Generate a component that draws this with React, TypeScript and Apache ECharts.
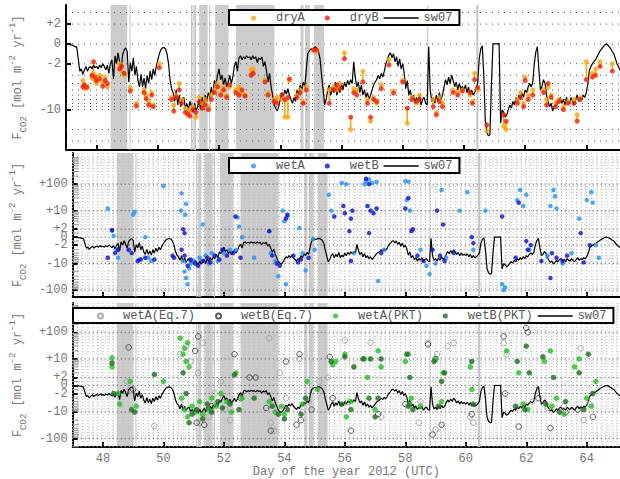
import { useEffect, useRef } from "react";
import * as echarts from "echarts";

const FONT = '"Liberation Mono", "DejaVu Sans Mono", monospace';
const GRAY = "#777777";

// sw07 flux, one value every 0.05 day starting at day 47.00
const sw07Start = 47.0;
const sw07Step = 0.05;
const sw07 = [
  0, 0, -0.05, -0.1, -0.1, -0.2, -0.3, -0.3,
  -1.5, -2.6, -2.4, -2.9, -2.5, -2.2, -2.6, -2.3, -2.2, -2.4, -2.1, -2.3,
  -2.2, -2.4, -2.1, -2.3, -2.0, -2.2, -2.5, -2.1, -2.8, -2.0,
  -1.6, -3.4, -1.2, -2.0, -0.9, -1.8, -2.6, -1.1, -0.6, -0.4,
  -0.8, -3.8, -1.9, -2.6, -1.4, -3.0, -2.2, -3.6, -4.5, -2.9,
  -4.5, -3.3, -4.8, -3.0, -4.0, -2.6, -3.5, -2.4, -3.0, -2.2,
  -1.6, -1.0, -0.6, -0.4, -0.35, -0.5, -1.0, -2.0, -3.5, -4.8,
  -5.5, -7.5, -5.0, -8.5, -6.0, -9.0, -7.0, -6.5, -9.5, -8.0,
  -10.0, -7.5, -9.0, -11.0, -8.0, -10.5, -9.0, -7.0, -10.0, -6.5,
  -8.5, -6.0, -7.5, -5.5, -6.5, -4.5, -6.0, -3.6, -4.2, -3.0,
  -2.4, -3.5, -3.0, -4.2, -3.3, -4.5, -3.8, -3.0, -4.0, -3.2,
  -2.2, -1.8, -2.6, -1.4, -1.2, -1.6, -1.3, -1.5, -1.2, -1.4,
  -1.3, -1.6, -1.2, -1.5, -1.3, -1.9, -1.4, -1.6, -1.3, -2.2,
  -1.8, -2.6, -3.8, -2.8, -4.5, -6.0, -8.5, -9.5, -10.5, -9.0,
  -7.0, -5.5, -6.2, -5.0, -5.8, -4.8, -6.0, -7.0, -8.0, -6.5,
  -7.5, -5.0, -6.0, -4.2, -5.0, -3.8, -4.5, -2.5, -1.0, -0.7,
  -0.5, -0.6, -0.4, -0.3, -0.5, -0.8, -1.5, -3.0, -5.0, -8.5,
  -7.0, -5.0, -4.2, -6.0, -4.5, -5.5, -3.8, -6.0, -4.8, -5.5,
  -4.0, -5.0, -3.8, -4.5, -3.6, -4.2, -3.5, -4.0, -1.8, -3.2,
  -4.5, -3.8, -5.5, -4.2, -6.0, -5.0, -6.5, -5.5, -7.0, -6.0,
  -5.0, -4.2, -3.8, -3.5, -3.0, -3.4, -2.8, -3.2, -2.6, -2.0,
  -1.6, -1.1, -0.9, -1.4, -1.0, -1.8, -1.3, -2.2, -1.5, -2.4,
  -2.0, -2.8, -4.8, -3.6, -6.0, -5.0, -7.0, -6.0, -8.0, -6.5,
  -7.5, -6.0, -8.5, -7.0, -6.5, -8.0, -8.5, -0.3, -5.0, -7.5,
  -6.5, -8.0, -6.0, -7.5, -5.5, -7.0, -6.0, -4.5, -3.5, -4.2,
  -3.2, -4.0, -3.0, -3.6, -4.5, -3.8, -5.0, -4.0, -4.8, -4.4,
  -5.0, -4.2, -5.5, -4.5, -6.0, -5.0, -6.0, -5.5, -4.8, -4.0,
  -1.5, -0.5, -0.2, -3.0, -15, -22, -25, -24, -4.0, 0,
  0, 0, 0, 0.05, -16, -10, -11, -13, -12, -10,
  -8.5, -9.5, -7.5, -8.5, -6.5, -7.5, -6.0, -7.0, -5.5, -6.5,
  -5.0, -5.5, -4.5, -4.0, -4.5, -3.8, -2.0, -0.8, -0.3, -2.5,
  -5.0, -4.5, -3.5, -4.0, -6.0, -7.5, -9.0, -8.0, -10.5, -9.0,
  -7.5, -8.5, -7.0, -6.5, -8.0, -7.0, -8.5, -6.5, -7.5, -8.0,
  -6.5, -7.5, -8.5, -7.0, -6.0, -7.5, -6.5, -7.0, -6.0, -6.5,
  -5.5, -4.0, -2.5, -2.2, -2.0, -1.8, -1.6, -1.3, -1.0, -0.7,
  -0.5, -0.3, -0.1, 0, -0.1, -0.3, -0.5, -0.8, -1.0, -1.5,
  -2.0, -2.2, -2.5,
];

// dry method, A and B share their sampling days
const dryDays = [
  47.55, 47.6, 47.68, 47.85, 47.9, 47.95, 48.0, 48.1, 48.2, 48.28,
  48.35, 48.75, 48.82, 48.9, 49.1, 49.3, 49.55, 49.62, 49.7, 49.8,
  49.85, 50.05, 50.45, 50.52, 50.6, 50.7, 50.78, 50.9, 50.98, 51.05,
  51.15, 51.25, 51.35, 51.45, 51.55, 51.65, 51.75, 51.85, 51.95, 52.05,
  52.15, 52.25, 52.35, 52.55, 52.65, 52.75, 52.85, 53.05, 53.12, 53.5,
  53.6, 53.8, 53.9, 54.05, 54.15, 54.25, 54.3, 54.55, 54.65, 54.75,
  54.85, 55.1, 55.18, 55.6, 55.75, 55.85, 55.95, 56.1, 56.3, 56.4,
  56.5, 56.7, 56.85, 56.95, 57.05, 57.15, 57.3, 57.55, 57.7, 58.0,
  58.15, 58.3, 58.45, 58.55, 59.0, 59.1, 59.2, 59.3, 59.65, 59.8,
  59.95, 60.2, 60.28, 60.35, 60.45, 60.75, 61.3, 61.38, 61.75, 61.85,
  61.95, 62.0, 62.1, 62.25, 62.6, 62.7, 62.75, 62.85, 63.0, 63.1,
  63.25, 63.4, 63.6, 63.7, 63.8, 64.0, 64.2, 64.3, 64.45, 64.85,
];
const dryA = [
  -3.6, -4.8, -4.4, -3.3, -2.8, -3.6, -4.0, -3.0, -3.8, -3.2,
  -4.5, -2.0, -2.6, -3.0, -4.6, -8.0, -5.0, -6.0, -7.5, -5.5,
  -8.5, -2.0, -6.5, -8.5, -6.0, -4.0, -7.0, -9.5, -12, -10,
  -9.0, -13, -6.5, -8.0, -7.0, -9.0, -6.0, -5.0, -4.0, -5.5,
  -4.5, -6.0, -4.5, -5.0, -4.5, -5.5, -6.0, -2.5, -2.4, -3.5,
  -5.5, -7.0, -6.5, -7.0, -13, -13, -3.6, -6.0, -5.0, -7.5,
  -4.5, -0.7, -0.8, -5.0, -4.5, -5.0, -4.0, -0.9, -20, -4.8,
  -5.0, -2.6, -7.0, -15, -6.5, -8.0, -4.2, -1.6, -5.2, -3.6,
  -16, -6.5, -8.0, -6.0, -7.0, -11, -6.5, -8.0, -5.0, -5.5,
  -5.0, -6.0, -7.5, -2.8, -5.0, -21, -18, -20, -7.0, -5.5,
  -8.0, -3.2, -6.0, -5.0, -5.0, -7.0, -4.6, -6.0, -8.0, -7.0,
  -9.0, -7.5, -7.0, -12, -6.5, -1.8, -2.8, -2.4, -1.8, -2.0,
];
const dryB = [
  -4.5, -4.2, -4.6, -3.0, -1.8, -3.2, -3.6, -3.4, -4.4, -3.6,
  -4.0, -2.4, -2.2, -2.8, -5.2, -8.8, -5.5, -6.8, -8.5, -6.0,
  -9.0, -2.3, -7.0, -10.5, -6.5, -5.0, -8.0, -11.0, -11.5, -12.5,
  -10.0, -11.0, -7.5, -9.5, -8.5, -10.0, -7.0, -5.5, -4.5, -6.0,
  -5.0, -6.5, -4.2, -5.5, -6.0, -5.0, -6.2, -3.0, -2.8, -3.8,
  -6.0, -7.5, -8.0, -6.0, -7.0, -6.5, -3.4, -6.5, -5.5, -8.0,
  -5.0, -0.6, -0.6, -8.0, -5.0, -4.2, -4.8, -1.5, -13, -5.5,
  -6.0, -3.8, -8.0, -13, -7.0, -7.5, -4.8, -2.1, -5.6, -3.8,
  -9.5, -7.0, -7.5, -7.0, -9.0, -12, -7.5, -9.0, -5.5, -6.0,
  -5.2, -5.5, -8.0, -3.5, -4.6, -17, -12, -15, -8.0, -6.5,
  -9.0, -3.6, -7.0, -6.0, -5.5, -8.5, -4.0, -6.5, -9.0, -7.5,
  -10, -8.0, -8.0, -15, -7.0, -3.5, -3.2, -3.0, -2.2, -2.6,
];

const wetA: [number, number][] = [
  [48.16, 12], [48.3, 1.6], [48.35, 0.3], [48.45, -3], [48.5, -6], [49.0, 7], [49.05, 9],
  [49.2, -7], [49.4, 0], [49.5, -6], [49.6, -8], [50.0, 85], [50.6, 45], [50.58, 10],
  [50.75, 18], [50.72, 7], [51.3, 3], [50.65, -8], [50.7, -20], [50.75, -35], [50.8, -60],
  [50.85, -15], [50.9, -10], [51.0, -8], [51.2, -6], [51.4, -5], [51.5, -10], [51.6, -4],
  [51.8, -8], [52.0, -4], [52.2, -3], [52.45, 5.5], [52.5, 2.5], [52.6, 0], [52.4, -3],
  [53.5, 1.5], [53.0, -6], [53.55, -4], [53.7, -8], [53.8, -30], [53.95, 10], [54.0, 4],
  [54.05, -60], [54.1, 6], [54.5, 2.2], [54.6, -4], [54.7, -18], [54.95, -0.5], [55.0, -3],
  [55.47, 40], [55.55, 10], [55.9, 110], [56.05, 100], [56.3, -4], [56.65, 100], [56.7, 130],
  [56.8, 150], [56.9, 110], [57.05, 120], [57.1, -45], [57.3, -3], [58.0, 130], [58.1, 125],
  [58.05, 25], [58.15, 10], [58.5, -3], [58.7, -12], [58.8, -25], [59.0, -10], [59.2, 60],
  [59.35, -6], [59.8, 10], [60.05, 50], [60.25, -3], [60.65, 10], [61.2, -60], [61.25, -100],
  [61.3, -80], [61.7, 25], [61.8, 60], [61.9, 15], [62.0, 40], [62.1, -3], [62.8, 15],
  [62.9, 60], [62.95, 35], [63.0, 12], [62.7, -5], [63.2, -10], [63.5, -4], [63.75, 5],
  [64.0, 25], [64.15, 50], [64.2, 20], [64.3, -2], [64.4, -6],
];
const wetB: [number, number][] = [
  [48.3, 1.8], [48.16, -6], [48.4, -4], [48.5, -3], [48.85, -3], [48.95, -4], [49.15, -8],
  [49.25, -7], [49.4, -6], [49.7, -7], [50.3, -5], [50.35, -6], [50.65, 2], [50.7, 1],
  [50.6, -3], [50.7, -5], [50.8, -12], [50.9, -7], [51.05, -10], [51.15, -12], [51.3, -8],
  [51.45, -6], [51.55, -9], [51.7, -5], [51.85, -7], [51.95, -3], [52.1, -5], [52.3, -4],
  [52.38, 6], [52.55, -6], [53.5, 1.5], [53.6, -5], [53.75, -10], [53.85, -12], [54.1, 7],
  [54.05, 5], [54.3, -5], [54.45, -9], [54.55, -7], [54.8, -6], [55.65, 6], [55.95, 15],
  [56.0, 8], [56.2, 5], [56.15, 1.5], [56.2, -8], [56.25, 10], [56.7, 160], [56.8, 100],
  [56.75, 15], [56.85, 10], [56.95, 8], [57.05, 12], [56.8, 1], [57.2, -4], [58.0, 12],
  [58.1, 30], [58.2, 1.5], [58.25, 2], [58.4, -5], [58.6, -8], [58.9, -3], [59.05, 10],
  [59.15, -5], [59.25, 3], [59.3, -8], [59.6, -4], [60.2, 0], [60.25, -1.5], [61.2, 6],
  [61.65, -6], [61.75, 20], [62.0, -1], [62.05, -3], [62.15, -2], [62.5, -8], [62.8, -35],
  [62.85, -4], [63.0, -6], [63.2, -8], [63.35, -5], [63.8, 1], [63.9, -9], [64.1, -2],
];

const eqA: [number, number][] = [
  [48.8, 1], [48.9, -1], [49.7, -33], [50.55, 15], [50.75, 30], [50.9, 8], [51.15, 3],
  [51.3, 40], [51.2, -25], [51.5, -15], [51.7, -2], [51.9, 1], [52.05, -8], [52.2, -20],
  [53.5, 60], [53.55, -25], [53.65, -50], [53.85, 3], [54.05, -3], [54.5, 10], [54.6, -10],
  [54.8, -4], [55.15, 1], [55.45, 2], [56.0, 50], [56.1, -4], [56.85, 40], [57.2, -15],
  [58.45, -25], [58.5, -4], [58.75, 40], [59.0, -45], [59.05, 15], [59.4, 30], [59.6, 40],
  [60.15, -15], [60.25, -25], [61.25, 40], [61.35, 15], [62.2, -4], [62.7, -7], [63.25, -6],
  [63.8, 25], [63.9, -20], [64.1, -5],
];
const eqB: [number, number][] = [
  [48.85, 27], [49.0, -1], [51.15, 70], [51.05, 20], [51.1, -25], [51.35, -30], [51.6, -6],
  [52.35, 15], [52.55, -3], [52.85, 2], [53.05, 2], [53.4, -7], [53.55, -50], [54.05, 8],
  [54.5, 15], [54.4, -30], [54.55, -20], [54.9, -8], [55.5, 12], [55.6, -3], [56.2, -50],
  [57.1, -12], [58.0, -5], [58.75, 35], [58.9, -70], [59.0, 10], [59.2, -30], [60.2, -12],
  [61.25, 70], [61.3, -2], [61.75, -35], [62.0, 145], [62.05, 100], [62.4, -3], [62.8, -40],
  [63.3, -10], [63.7, -8], [64.2, -15],
];
const pktA: [number, number][] = [
  [48.3, 11], [48.3, 5], [48.5, -2], [48.55, -5], [48.9, 1], [49.1, -6], [50.0, 1],
  [50.55, 60], [50.65, 15], [50.7, 25], [50.75, 8], [50.8, 40], [50.85, 5], [50.6, -3],
  [50.7, -8], [50.8, -15], [50.95, -6], [51.05, -10], [51.2, -4], [51.3, -12], [51.5, -8],
  [51.6, -3], [51.75, -6], [51.9, -2], [52.1, -4], [52.25, -10], [52.4, 3], [52.6, -3],
  [53.5, -4], [53.7, -10], [53.9, -6], [54.0, -12], [54.6, -5], [54.75, 1], [55.1, -1],
  [55.6, 6], [55.7, 8], [56.0, 15], [56.05, -15], [56.2, -4], [56.65, 10], [56.75, 2],
  [57.0, -8], [57.1, 20], [57.2, 5], [58.0, 8], [58.1, 15], [58.2, -3], [58.15, -5],
  [58.5, -6], [59.0, 10], [59.2, -4], [59.25, 3], [60.15, 5], [60.2, -1], [61.35, 20],
  [61.75, 3], [61.9, -5], [62.05, -8], [62.6, 8], [62.8, 20], [62.85, -6], [63.0, -3],
  [63.25, -12], [63.6, 5], [63.75, 10], [64.0, -3], [64.15, -6], [64.3, 1],
];
const pktB: [number, number][] = [
  [48.3, 7], [48.35, -2], [48.95, -8], [49.05, -10], [49.7, 2.6], [50.65, 3], [50.75, -2],
  [50.85, -25], [50.95, -12], [51.1, -8], [51.3, -18], [51.45, -5], [51.6, -10], [51.8, -4],
  [51.95, -7], [52.2, -5], [52.35, 2.5], [52.5, -8], [53.0, -3], [53.6, -6], [53.8, -12],
  [54.0, -18], [54.1, -8], [54.55, -12], [54.7, -3], [55.55, 8], [55.9, -5], [56.0, 12],
  [56.2, -8], [56.3, 5], [56.6, 10], [56.8, -3], [56.85, 10], [57.0, -15], [57.2, 10],
  [57.1, -3], [58.05, 15], [58.15, 2], [58.25, -8], [58.1, -6], [58.95, 8], [59.1, -6],
  [59.2, 1], [59.3, 3], [60.2, 8], [60.25, -5], [61.7, 8], [61.65, -6], [61.95, -8],
  [62.0, 30], [62.1, 3], [62.55, 12], [62.65, -5], [62.9, 2], [63.1, -10], [63.3, -4],
  [63.75, 3], [63.9, -8], [64.05, 15], [64.2, -2],
];

// shaded periods and single marker lines (day of year)
const shadeBands: [number, number][] = [
  [48.46, 49.0], [51.35, 51.63], [51.87, 52.31], [52.55, 53.81],
  [54.66, 54.76], [54.81, 54.97], [55.1, 55.43],
];
const thinLines = [49.09, 51.1, 51.15, 51.19, 51.23, 51.69, 58.82];
const thickLines = [60.44];

const dayTicks = [48, 50, 52, 54, 56, 58, 60, 62, 64];
const dryTickValues = [2, 0, -2, -10];
const dryTickLabels = ["+2", "0", "-2", "-10"];
const dryGridValues = [3, 2, 0, -2, -3, -4, -5, -6, -7, -8, -9, -10, -20, -30];
const wetTickValues = [100, 10, 2, 0, -2, -10, -100];
const wetTickLabels = ["+100", "+10", "+2", "0", "-2", "-10", "-100"];
const wetMinorValues = [
  1000, 900, 800, 700, 600, 500, 400, 300, 200, 90, 80, 70, 60, 50, 40, 30, 20,
  9, 8, 7, 6, 5, 4, 3, 1, -1, -3, -4, -5, -6, -7, -8, -9,
  -20, -30, -40, -50, -60, -70, -80, -90, -200,
];

const dryRange: [number, number] = [-41, 3.9];
const wetRange: [number, number] = [-182, 1500];
const pktRange: [number, number] = [-205, 1260];

// symmetric log: linear inside |x| < 2, log10 outside
const symlog = (v: number) =>
  Math.abs(v) >= 2 ? Math.sign(v) * Math.log10(Math.abs(v)) : (v * Math.log10(2)) / 2;

const pts = (arr: [number, number][]) => arr.map(([d, v]) => [d, symlog(v)]);

// legend icons: a dot centred in a 35x5 slot, and a thin 35px line
const DOT_ICON =
  "path://M0,2.5M35,2.5M15,2.5A2.5,2.5,0,1,1,20,2.5A2.5,2.5,0,1,1,15,2.5Z";
const LINE_ICON = "path://M0,0L35,0L35,1.4L0,1.4Z";

const yName = "{t|F}{s|CO2}{t| [mol m}{p|-2}{t| yr}{p|-1}{t|]}";
const yNameStyle = {
  color: GRAY,
  fontFamily: FONT,
  fontSize: 12,
  rich: {
    t: { color: GRAY, fontFamily: FONT, fontSize: 12, lineHeight: 20 },
    s: { color: GRAY, fontFamily: FONT, fontSize: 9, lineHeight: 10, verticalAlign: "bottom" },
    p: { color: GRAY, fontFamily: FONT, fontSize: 9, lineHeight: 10, verticalAlign: "top" },
  },
};

const xAxisFor = (gi: number, labelled: boolean) => ({
  gridIndex: gi,
  type: "value",
  min: 47,
  max: 65.1,
  axisLine: { show: true, onZero: false, lineStyle: { color: "#000", width: 2 } },
  axisTick: {
    show: true,
    inside: true,
    length: 5,
    customValues: dayTicks,
    lineStyle: { color: "#000", width: 2 },
  },
  axisLabel: {
    show: labelled,
    customValues: dayTicks,
    color: GRAY,
    fontFamily: FONT,
    fontSize: 12,
    margin: 6,
  },
  splitLine: { show: false },
  name: labelled ? "Day of the year 2012 (UTC)" : "",
  nameLocation: "middle",
  nameGap: 16,
  nameTextStyle: { color: GRAY, fontFamily: FONT, fontSize: 12 },
});

const yAxisFor = (gi: number, range: [number, number], values: number[], labels: string[]) => ({
  gridIndex: gi,
  type: "value",
  min: symlog(range[0]),
  max: symlog(range[1]),
  axisLine: { show: true, lineStyle: { color: "#000", width: 2 } },
  axisTick: {
    show: true,
    inside: true,
    length: 5,
    customValues: values.map(symlog),
    lineStyle: { color: "#000", width: 2 },
  },
  axisLabel: {
    customValues: values.map(symlog),
    formatter: (v: number) => {
      const i = values.findIndex((t) => Math.abs(symlog(t) - v) < 1e-6);
      return i >= 0 ? labels[i] : "";
    },
    color: GRAY,
    fontFamily: FONT,
    fontSize: 12,
    margin: 5,
  },
  splitLine: { show: false },
  name: yName,
  nameLocation: "middle",
  nameRotate: 90,
  nameGap: 22,
  nameTextStyle: yNameStyle,
});

const shadeSeries = (gi: number) => ({
  type: "custom",
  xAxisIndex: gi,
  yAxisIndex: gi,
  silent: true,
  z: 0,
  data: shadeBands,
  renderItem: (params: any, api: any) => {
    const cs = params.coordSys;
    const x0 = api.coord([api.value(0), 0])[0];
    const x1 = api.coord([api.value(1), 0])[0];
    return {
      type: "rect",
      shape: { x: x0, y: cs.y, width: x1 - x0, height: cs.height },
      style: { fill: "#cccccc" },
    };
  },
});

const vLineSeries = (gi: number, days: number[], color: string, width: number, dash: number[] | null, z: number) => ({
  type: "custom",
  xAxisIndex: gi,
  yAxisIndex: gi,
  silent: true,
  z,
  data: days.map((d) => [d]),
  renderItem: (params: any, api: any) => {
    const cs = params.coordSys;
    const x = api.coord([api.value(0), 0])[0];
    return {
      type: "line",
      shape: { x1: x, y1: cs.y, x2: x, y2: cs.y + cs.height },
      style: { stroke: color, lineWidth: width, lineDash: dash },
    };
  },
});

const hLineSeries = (gi: number, values: number[], range: [number, number], color: string, dash: number[], tickColor: string | null) => ({
  type: "custom",
  xAxisIndex: gi,
  yAxisIndex: gi,
  silent: true,
  z: 1,
  data: values.filter((v) => v >= range[0] && v <= range[1]).map((v) => [symlog(v)]),
  renderItem: (params: any, api: any) => {
    const cs = params.coordSys;
    const y = api.coord([50, api.value(0)])[1];
    const children: any[] = [
      {
        type: "line",
        shape: { x1: cs.x, y1: y, x2: cs.x + cs.width, y2: y },
        style: { stroke: color, lineWidth: 1, lineDash: dash },
      },
    ];
    if (tickColor) {
      children.push({
        type: "line",
        shape: { x1: cs.x, y1: y, x2: cs.x + 6, y2: y },
        style: { stroke: tickColor, lineWidth: 1 },
      });
    }
    return { type: "group", children };
  },
});

const sw07Series = (gi: number) => ({
  name: "sw07",
  type: "line",
  xAxisIndex: gi,
  yAxisIndex: gi,
  z: 3,
  symbol: "none",
  showSymbol: false,
  silent: true,
  lineStyle: { color: "#000", width: 1.2 },
  itemStyle: { color: "#000" },
  data: sw07.map((v, i) => [sw07Start + i * sw07Step, symlog(v)]),
});

const dotSeries = (gi: number, name: string, data: [number, number][], fill: string, size: number, stroke?: string) => ({
  name,
  type: "scatter",
  xAxisIndex: gi,
  yAxisIndex: gi,
  z: 4,
  silent: true,
  symbol: "circle",
  symbolSize: size,
  itemStyle: stroke
    ? { color: "rgba(0,0,0,0)", borderColor: stroke, borderWidth: 1 }
    : { color: fill },
  data: pts(data),
});

const legendFor = (dots: string[], left: number, top: number, padLeft: number) => ({
  data: [
    ...dots.map((name) => ({ name, icon: DOT_ICON })),
    { name: "sw07", icon: LINE_ICON },
  ],
  left,
  top,
  orient: "horizontal",
  itemWidth: 35,
  itemHeight: 5,
  itemGap: 5,
  padding: [2, 7, 1, padLeft],
  backgroundColor: "#ffffff",
  borderColor: "#000000",
  borderWidth: 2,
  borderRadius: 0,
  selectedMode: false,
  z: 10,
  textStyle: { color: "#555555", fontFamily: FONT, fontSize: 12 },
});

export default function App() {
  const ref = useRef<HTMLDivElement>(null);

  useEffect(() => {
    if (!ref.current) return;
    const chart = echarts.init(ref.current, undefined, { renderer: "svg" });
    const vGridDays = Array.from({ length: 109 }, (_, i) => 47 + i / 6);
    const dryPairs = dryDays.map((d, i) => [d, symlog(dryA[i]), symlog(dryB[i])]);

    chart.setOption({
      animation: false,
      backgroundColor: "#ffffff",
      textStyle: { fontFamily: FONT },
      grid: [
        { left: 66, right: 0, top: 5, height: 145 },
        { left: 66, right: 0, top: 153, height: 144 },
        { left: 66, right: 0, top: 303, height: 144 },
      ],
      xAxis: [xAxisFor(0, false), xAxisFor(1, false), xAxisFor(2, true)],
      yAxis: [
        yAxisFor(0, dryRange, dryTickValues, dryTickLabels),
        yAxisFor(1, wetRange, wetTickValues, wetTickLabels),
        yAxisFor(2, pktRange, wetTickValues, wetTickLabels),
      ],
      legend: [
        legendFor(["dryA", "dryB"], 229, 10, 7),
        legendFor(["wetA", "wetB"], 229, 158, 7),
        legendFor(["wetA(Eq.7)", "wetB(Eq.7)", "wetA(PKT)", "wetB(PKT)"], 73, 308, 9),
      ],
      series: [
        // panel 1: dry
        shadeSeries(0),
        hLineSeries(0, dryGridValues, dryRange, "#555555", [1, 5], null),
        vLineSeries(0, thinLines, "#c4c4c4", 1, null, 1),
        vLineSeries(0, thickLines, "#c4c4c4", 2, null, 1),
        sw07Series(0),
        {
          type: "custom",
          xAxisIndex: 0,
          yAxisIndex: 0,
          silent: true,
          z: 3,
          data: dryPairs,
          renderItem: (_params: any, api: any) => {
            const a = api.coord([api.value(0), api.value(1)]);
            const b = api.coord([api.value(0), api.value(2)]);
            return {
              type: "line",
              shape: { x1: a[0], y1: a[1], x2: b[0], y2: b[1] },
              style: { stroke: "#ffa500", lineWidth: 1.5 },
            };
          },
        },
        dotSeries(0, "dryA", dryDays.map((d, i) => [d, dryA[i]]), "#ffa500", 5),
        dotSeries(0, "dryB", dryDays.map((d, i) => [d, dryB[i]]), "#ff1a00", 5),

        // panel 2: wet
        shadeSeries(1),
        vLineSeries(1, vGridDays, "#b8b8b8", 1, [1, 2], 1),
        hLineSeries(1, wetMinorValues, wetRange, "#c8c8c8", [1, 3], "#999999"),
        hLineSeries(1, wetTickValues, wetRange, "#444444", [1, 3], null),
        vLineSeries(1, thinLines, "#c4c4c4", 1, null, 1),
        vLineSeries(1, thickLines, "#c4c4c4", 2, null, 1),
        sw07Series(1),
        dotSeries(1, "wetA", wetA, "#1e90ff", 4.5),
        dotSeries(1, "wetB", wetB, "#0a0ae0", 4.5),

        // panel 3: Eq.7 and PKT
        shadeSeries(2),
        vLineSeries(2, vGridDays, "#b8b8b8", 1, [1, 2], 1),
        hLineSeries(2, wetMinorValues, pktRange, "#c8c8c8", [1, 3], "#999999"),
        hLineSeries(2, wetTickValues, pktRange, "#444444", [1, 3], null),
        vLineSeries(2, thinLines, "#c4c4c4", 1, null, 1),
        vLineSeries(2, thickLines, "#c4c4c4", 2, null, 1),
        sw07Series(2),
        dotSeries(2, "wetA(Eq.7)", eqA, "", 5.5, "#999999"),
        dotSeries(2, "wetB(Eq.7)", eqB, "", 5.5, "#333333"),
        dotSeries(2, "wetA(PKT)", pktA, "#22c022", 5.5),
        dotSeries(2, "wetB(PKT)", pktB, "#1b6b1b", 5.5),
      ],
    });

    return () => chart.dispose();
  }, []);

  return (
    <div
      ref={ref}
      style={{ position: "fixed", left: 0, top: 0, width: 620, height: 479 }}
    />
  );
}
